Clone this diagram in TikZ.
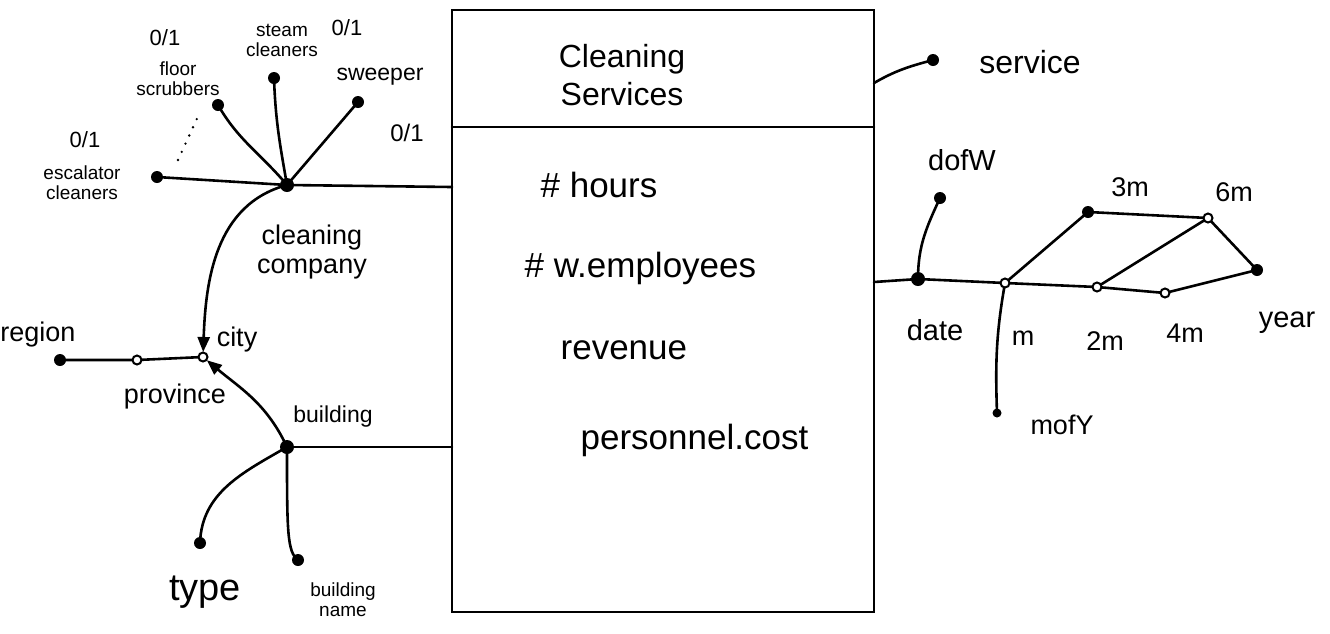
\documentclass[tikz,border=0pt]{standalone}
\usepackage{fontspec}
\setmainfont{Liberation Sans}
\usetikzlibrary{arrows.meta}

\begin{document}
\begin{tikzpicture}[x=1pt,y=-1pt,line width=2.6pt,line cap=round,
	lbl/.style={font=\fontsize{27}{29}\selectfont,align=center},
	sml/.style={font=\fontsize{19}{20}\selectfont,align=center},
	msr/.style={font=\fontsize{35}{38}\selectfont,anchor=west},
	ttl/.style={font=\fontsize{32}{38}\selectfont,align=center},
	hollow/.style={draw,fill=white,line width=2pt},
	arr/.style={-{Triangle[length=15pt,width=12pt]},shorten >=5pt}]
	\useasboundingbox (0,0) rectangle (1330,633);

	\coordinate (ftl) at (452,10);
	\coordinate (fbr) at (874,612);
	\coordinate (hl) at (452,127);
	\coordinate (hr) at (874,127);
	\coordinate (cc) at (452,187);
	\coordinate (bc) at (452,447);
	\coordinate (sc) at (874,83);
	\coordinate (dc) at (874,282);

	\coordinate (comp) at (287,185);
	\coordinate (esc) at (157,177);
	\coordinate (flr) at (218,105);
	\coordinate (stm) at (274,78);
	\coordinate (swp) at (358,102);
	\coordinate (dt1) at (178,160);
	\coordinate (dt2) at (200,112);
	\coordinate (city) at (203,357);
	\coordinate (prov) at (137,360);
	\coordinate (reg) at (60,360);
	\coordinate (bld) at (287,447);
	\coordinate (typ) at (200,543);
	\coordinate (bnm) at (298,560);

	\coordinate (srv) at (933,60);
	\coordinate (date) at (918,279);
	\coordinate (dow) at (940,198);
	\coordinate (m) at (1005,283);
	\coordinate (mofy) at (997,413);
	\coordinate (m2) at (1097,287);
	\coordinate (m3) at (1088,212);
	\coordinate (m4) at (1165,293);
	\coordinate (m6) at (1208,218);
	\coordinate (yr) at (1257,270);

\draw (ftl) rectangle (fbr);
\draw (hl) -- (hr);
\node[ttl] (title) at (622,75) {Cleaning\\Services};
\node[msr] (hrs) at (536,185) {\# hours};
\node[msr] (emp) at (520,268) {\# w.employees};
\node[msr] (rev) at (556,350) {revenue};
\node[msr] (cost) at (576,440) {personnel.cost};

	\draw (esc) -- (comp) -- (cc);
	\draw (flr) to[out=-60,in=130] (comp);
	\draw (stm) to[out=-88,in=100] (comp);
	\draw (swp) -- (comp);
	\draw[dash pattern=on 0pt off 9pt] (dt1) -- (dt2);
	\draw[arr] (comp) to[out=195,in=88] (city);
	\draw (reg) -- (prov) -- (city);
	\draw (bld) -- (bc);
	\draw[arr] (bld) to[out=115,in=-40] (city);
	\draw (bld) to[out=-150,in=88] (typ);
	\draw (bld) .. controls (287,530) and (287,552) .. (bnm);

\fill (comp) circle (7);
\fill (esc) circle (6);
\fill (flr) circle (6);
\fill (stm) circle (6);
\fill (swp) circle (6);
\fill (reg) circle (6);
\fill (bld) circle (7);
\fill (typ) circle (6);
\fill (bnm) circle (6);
\draw[hollow] (prov) circle (4.5);
\draw[hollow] (city) circle (4.5);

	\node[sml,font=\fontsize{22}{24}\selectfont] (l-z1) at (165,38) {0/1};
	\node[sml] (l-flr) at (178,79) {floor\\scrubbers};
	\node[sml] (l-stm) at (282,40) {steam\\cleaners};
	\node[sml,font=\fontsize{22}{24}\selectfont] (l-z2) at (347,28) {0/1};
	\node[sml,font=\fontsize{23}{24}\selectfont] (l-swp) at (380,77) {sweeper};
	\node[sml,font=\fontsize{24}{26}\selectfont] (l-z3) at (407,133) {0/1};
	\node[sml,font=\fontsize{22}{24}\selectfont] (l-z4) at (85,140) {0/1};
	\node[sml] (l-esc) at (82,183) {escalator\\cleaners};
	\node[lbl] (l-comp) at (312,252) {cleaning\\company};
	\node[lbl] (l-reg) at (38,335) {region};
	\node[lbl] (l-prov) at (175,397) {province};
	\node[lbl] (l-city) at (237,340) {city};
	\node[lbl,font=\fontsize{23}{25}\selectfont] (l-bld) at (333,417) {building};
	\node[lbl,font=\fontsize{38}{40}\selectfont] (l-typ) at (205,592) {type};
	\node[sml] (l-bnm) at (343,600) {building\\name};

	\draw (sc) to[out=30,in=195] (srv);
	\draw (dc) -- (date) -- (m) -- (m2) -- (m4) -- (yr) -- (m6) -- (m3) -- (m);
	\draw (m2) -- (m6);
	\draw (date) to[out=90,in=-115] (dow);
	\draw (m) to[out=-100,in=92] (mofy);

\fill (srv) circle (6);
\fill (date) circle (7);
\fill (dow) circle (6);
\fill (mofy) circle (4.5);
\fill (m3) circle (6);
\fill (yr) circle (6);
\draw[hollow] (m) circle (4.5);
\draw[hollow] (m2) circle (4.5);
\draw[hollow] (m4) circle (4.5);
\draw[hollow] (m6) circle (4.5);

	\node[lbl,font=\fontsize{32}{34}\selectfont] (l-srv) at (1030,62) {service};
	\node[lbl,font=\fontsize{29}{31}\selectfont] (l-dow) at (962,160) {dofW};
	\node[lbl,font=\fontsize{29}{31}\selectfont] (l-date) at (935,330) {date};
	\node[lbl] (l-m) at (1023,338) {m};
	\node[lbl] (l-mofy) at (1062,425) {mofY};
	\node[lbl] (l-m3) at (1130,187) {3m};
	\node[lbl] (l-m6) at (1234,192) {6m};
	\node[lbl] (l-m2) at (1105,341) {2m};
	\node[lbl] (l-m4) at (1185,333) {4m};
	\node[lbl,font=\fontsize{29}{31}\selectfont] (l-yr) at (1287,323) {year};
\end{tikzpicture}
\end{document}
